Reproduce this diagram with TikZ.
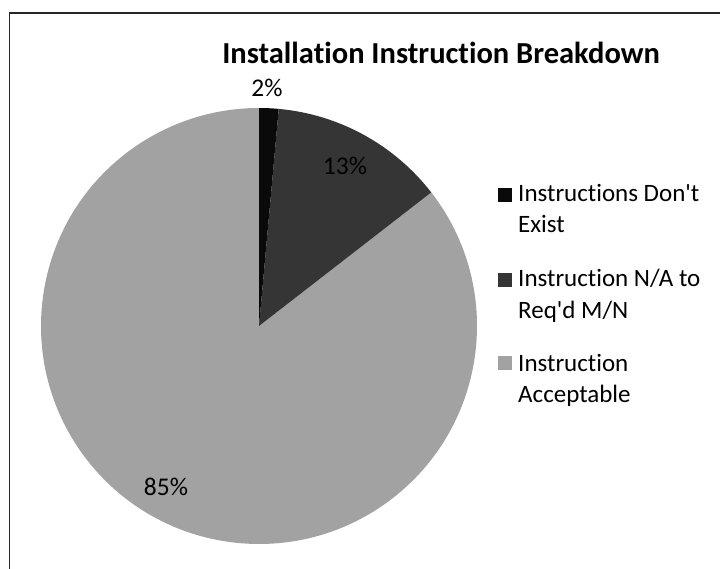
\documentclass[tikz,border=0pt]{standalone}
\usepackage{fontspec}
\setmainfont[Ligatures=NoCommon]{Carlito}
\definecolor{sliceblack}{HTML}{0A0A0A}
\definecolor{slicedark}{HTML}{353535}
\definecolor{slicelight}{HTML}{A2A2A2}
\tikzset{
  pct/.style={font=\fontsize{25.5}{30}\selectfont, text=black, inner sep=0pt},
  legtext/.style={font=\fontsize{25}{31.5}\selectfont, align=left, anchor=north west, inner sep=0pt},
  legbox/.style={minimum size=13.5pt, inner sep=0pt, draw=none},
}
\begin{document}
\begin{tikzpicture}[x=1pt,y=-1pt]
  \useasboundingbox (0,0) rectangle (720,569);
  % chart frame (top and left edges visible)
  \draw[line width=1.6pt, black!85] (9.5,569) -- (9.5,13) -- (720,13);
  % pie, clockwise from twelve o'clock (y axis points down, so -90 is up)
  \coordinate (c) at (259,326);
  \def\R{218}
  \fill[slicelight] (c) -- ++(-37.8:\R) arc[start angle=-37.8, end angle=270, radius=\R] -- cycle;
  \fill[slicedark] (c) -- ++(-84.8:\R) arc[start angle=-84.8, end angle=-37.8, radius=\R] -- cycle;
  \fill[sliceblack] (c) -- ++(-90:\R) arc[start angle=-90, end angle=-84.8, radius=\R] -- cycle;
  % title
  \node[font=\fontsize{30.5}{36}\selectfont\bfseries, inner sep=0pt] (title) at (441,53) {Installation Instruction Breakdown};
  % data labels
  \node[pct] (p2) at (267,88) {2\%};
  \node[pct] (p13) at (345,166) {13\%};
  \node[pct] (p85) at (166,487) {85\%};
  % legend
  \node[legbox, fill=sliceblack] (k1) at (505,195) {};
  \node[legtext] (l1) at (518,184) {Instructions Don\textquotesingle t\\Exist};
  \node[legbox, fill=slicedark] (k2) at (505,280) {};
  \node[legtext] (l2) at (518,269) {Instruction N/A to\\Req\textquotesingle d M/N};
  \node[legbox, fill=slicelight] (k3) at (505,363) {};
  \node[legtext] (l3) at (518,354) {Instruction\\Acceptable};
\end{tikzpicture}
\end{document}
